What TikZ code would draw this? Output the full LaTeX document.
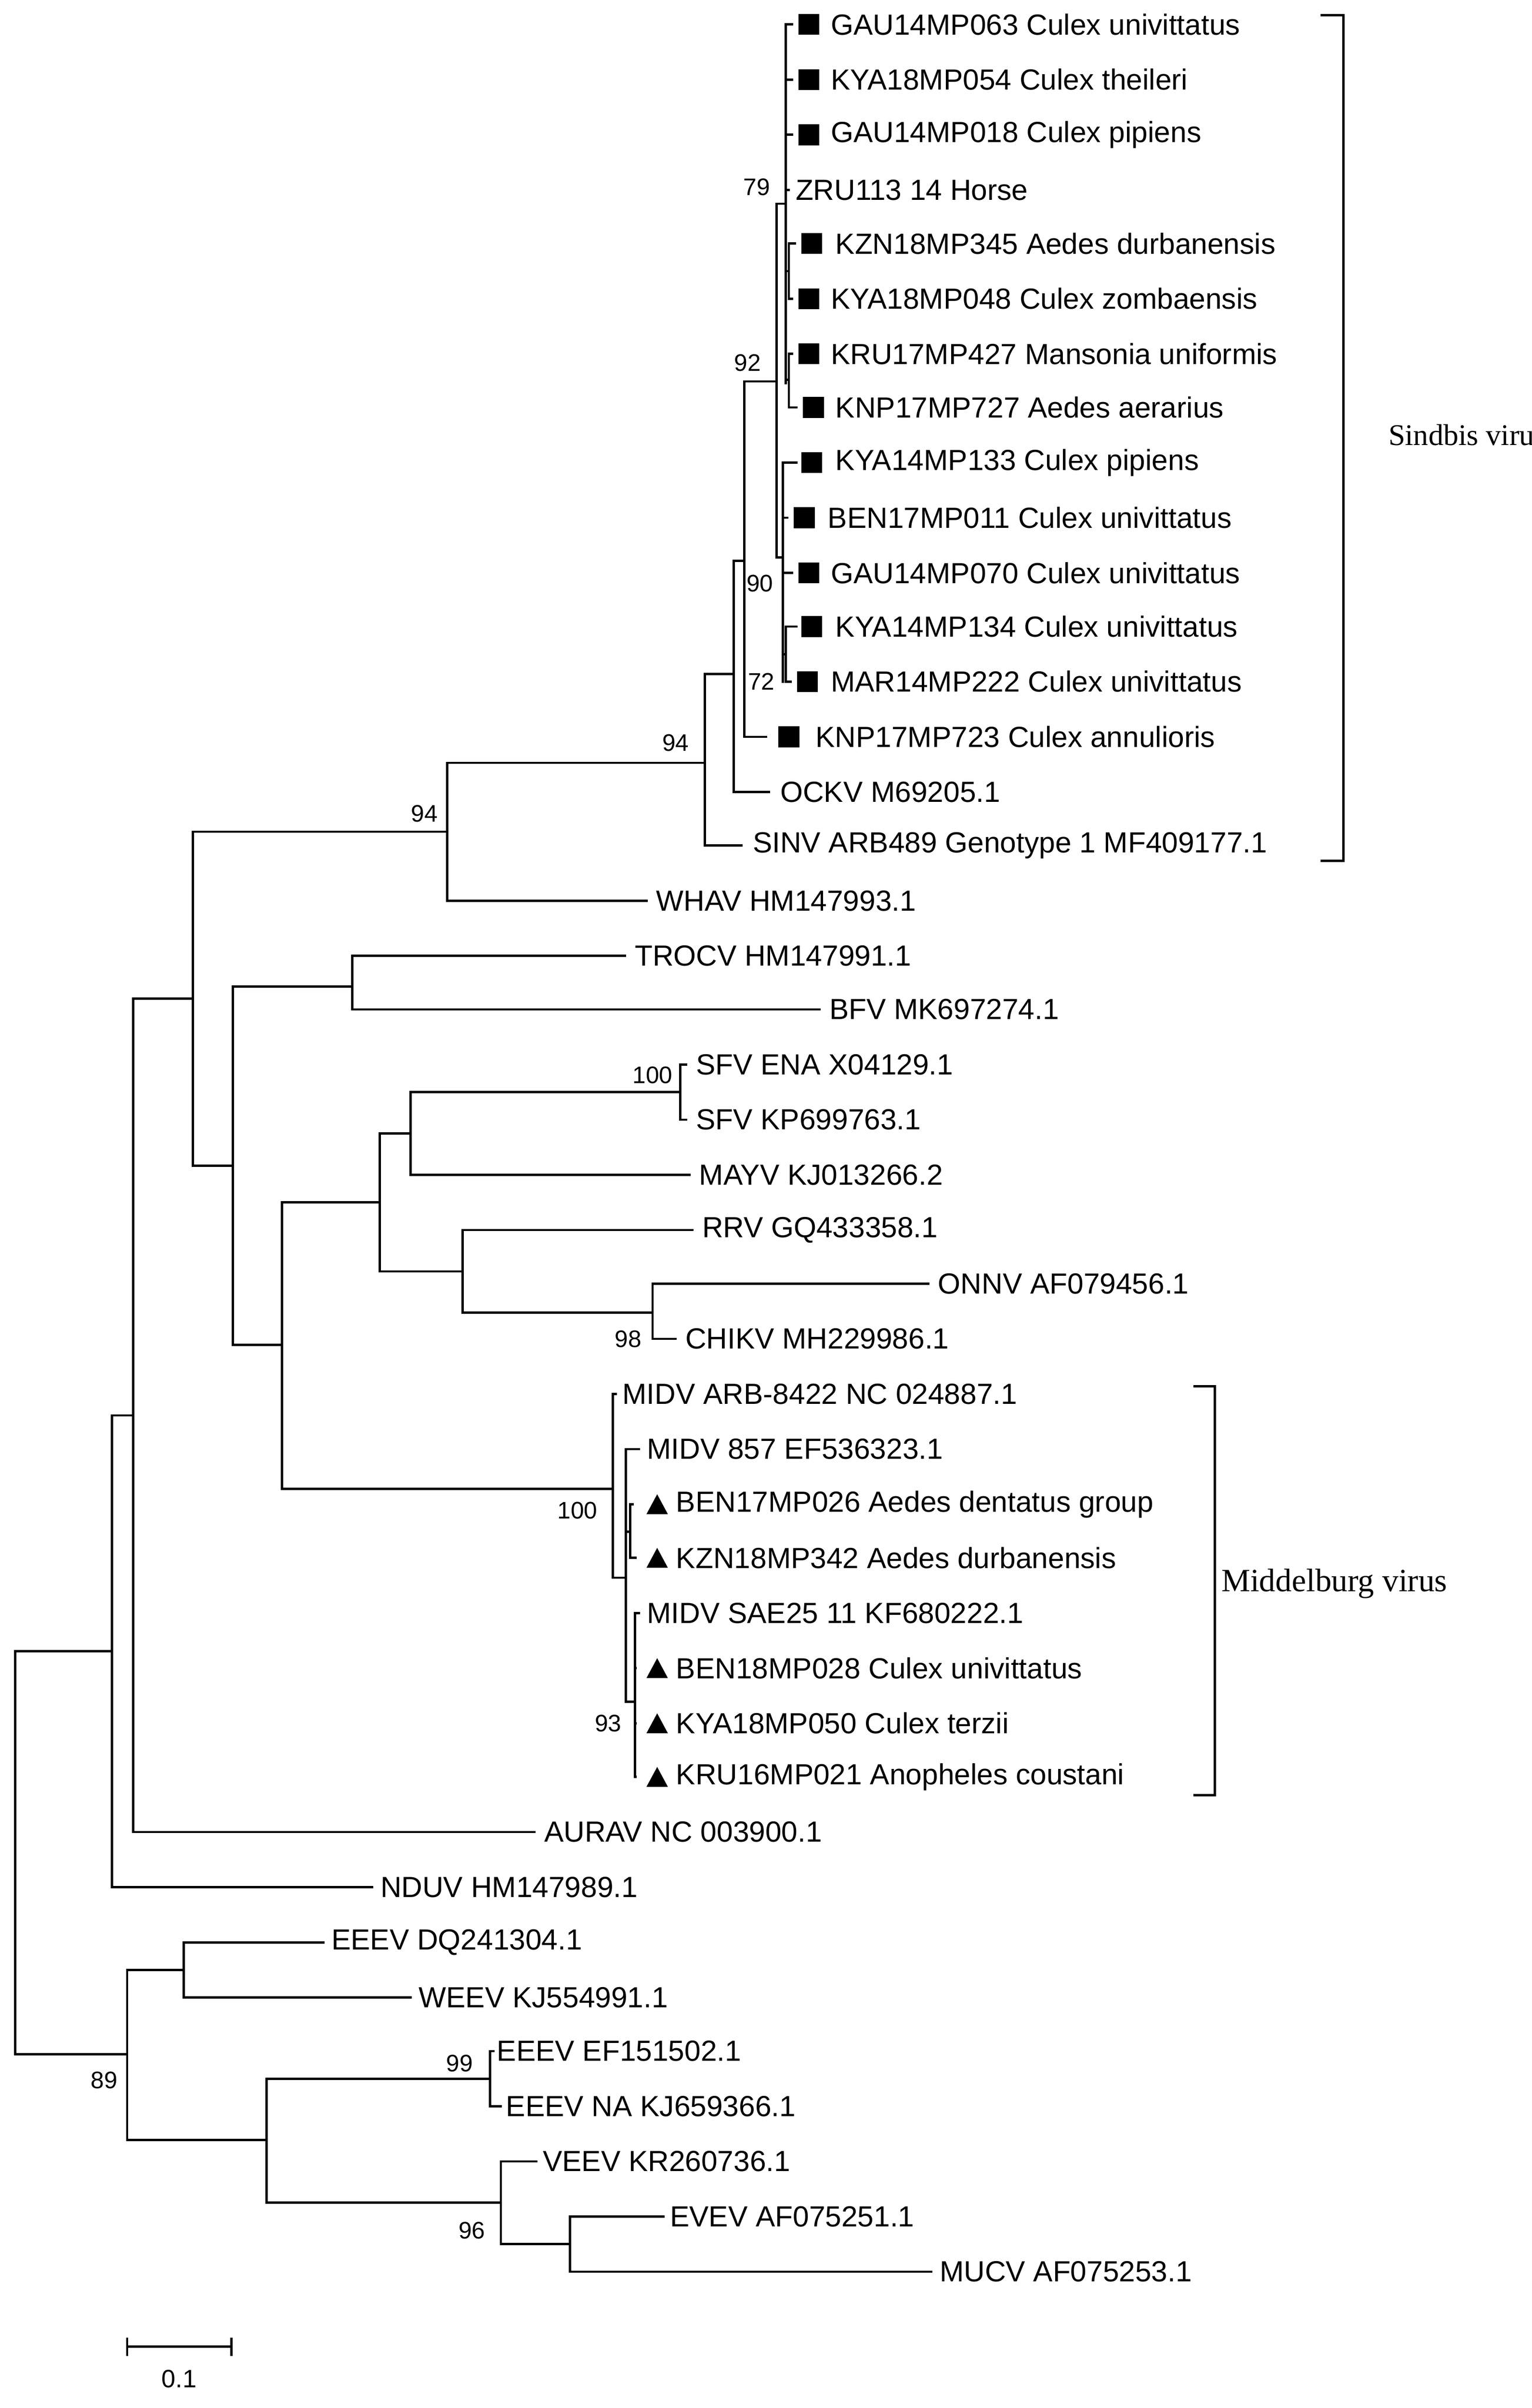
\documentclass[tikz,border=0pt]{standalone}
\usepackage{fontspec}
\setmainfont{Liberation Sans}
\newfontfamily\serifft{Liberation Serif}
\begin{document}
\begin{tikzpicture}[x=0.5pt,y=-0.5pt,
  br/.style={line width=0.75pt,line cap=rect},
  lbl/.style={anchor=west,inner sep=0pt,font=\fontsize{9.5}{11}\selectfont},
  bs/.style={inner sep=0pt,font=\fontsize{7.8}{9}\selectfont},
  grp/.style={anchor=west,inner sep=0pt,font=\serifft\fontsize{10.6}{13}\selectfont},
  sq/.style={fill=black,minimum size=6.8pt,inner sep=0pt,draw=none},
  tri/.style={fill=black}]
\useasboundingbox (0,0) rectangle (1000,1572);
\newcommand\lf[7]{%
  \draw[br] (#1,#2) -- (#3,#2);
  \ifx s#4\node[sq] (m#7) at (#5,#2) {};\fi
  \ifx t#4\fill[tri] (#5-7,#2+6.5) -- (#5+7,#2+6.5) -- (#5,#2-6.5) -- cycle;\fi
  \node[lbl] (#7) at (#6,#2) {#7};}
% ---- Sindbis cluster
\lf{513}{16}{517}{s}{528}{542}{GAU14MP063 Culex univittatus}
\lf{513}{52}{517}{s}{528}{542}{KYA18MP054 Culex theileri}
\lf{513}{88}{517}{s}{528}{542}{GAU14MP018 Culex pipiens}
\lf{513}{124}{515}{n}{0}{519}{ZRU113 14 Horse}
\lf{515}{159}{519}{s}{530}{545}{KZN18MP345 Aedes durbanensis}
\lf{515}{195}{517}{s}{528}{542}{KYA18MP048 Culex zombaensis}
\lf{515}{231}{517}{s}{528}{542}{KRU17MP427 Mansonia uniformis}
\lf{515}{266}{520}{s}{531}{545}{KNP17MP727 Aedes aerarius}
\lf{511}{302}{520}{s}{530}{545}{KYA14MP133 Culex pipiens}
\lf{511}{338}{514}{s}{525}{540}{BEN17MP011 Culex univittatus}
\lf{511}{374}{517}{s}{528}{542}{GAU14MP070 Culex univittatus}
\lf{513}{409}{520}{s}{530}{545}{KYA14MP134 Culex univittatus}
\lf{513}{445}{516}{s}{527}{542}{MAR14MP222 Culex univittatus}
\lf{486}{481}{500}{s}{515}{532}{KNP17MP723 Culex annulioris}
\lf{479}{517}{502}{n}{0}{509}{OCKV M69205.1}
\lf{460}{552}{484}{n}{0}{491}{SINV ARB489 Genotype 1 MF409177.1}
\lf{292}{588}{422}{n}{0}{428}{WHAV HM147993.1}
% internal Sindbis
\draw[br] (513,16) -- (513,250);
\draw[br] (513,177) -- (515,177) (515,159) -- (515,195);
\draw[br] (513,248) -- (515,248) (515,231) -- (515,266);
\draw[br] (507,133) -- (513,133);
\draw[br] (507,133) -- (507,364) -- (511,364);
\draw[br] (511,302) -- (511,445);
\draw[br] (511,427) -- (513,427) (513,409) -- (513,445);
\draw[br] (486,249) -- (507,249);
\draw[br] (486,249) -- (486,481);
\draw[br] (479,366) -- (486,366) (479,366) -- (479,517);
\draw[br] (460,440) -- (479,440) (460,440) -- (460,552);
\draw[br] (292,498) -- (460,498) (292,498) -- (292,588);
\draw[br] (126,543) -- (292,543);
% ---- other
\lf{230}{624}{408}{n}{0}{414}{TROCV HM147991.1}
\lf{230}{659}{535}{n}{0}{541}{BFV MK697274.1}
\lf{444}{695}{448}{n}{0}{454}{SFV ENA X04129.1}
\lf{444}{731}{448}{n}{0}{454}{SFV KP699763.1}
\lf{268}{767}{450}{n}{0}{456}{MAYV KJ013266.2}
\lf{302}{803}{452}{n}{0}{458}{RRV GQ433358.1}
\lf{426}{838}{606}{n}{0}{612}{ONNV AF079456.1}
\lf{426}{874}{441}{n}{0}{447}{CHIKV MH229986.1}
\lf{400}{910}{402}{n}{0}{406}{MIDV ARB-8422 NC 024887.1}
\lf{408.5}{946}{417}{n}{0}{422}{MIDV 857 EF536323.1}
\lf{411.5}{982}{413}{t}{429}{441}{BEN17MP026 Aedes dentatus group}
\lf{411.5}{1017}{415}{t}{429}{441}{KZN18MP342 Aedes durbanensis}
\lf{414.5}{1053}{417}{n}{0}{422}{MIDV SAE25 11 KF680222.1}
\lf{414.5}{1089}{415}{t}{429}{441}{BEN18MP028 Culex univittatus}
\lf{414.5}{1125}{415}{t}{429}{441}{KYA18MP050 Culex terzii}
\lf{414.5}{1160}{415}{t}{429}{441}{KRU16MP021 Anopheles coustani}
\lf{87}{1196}{349}{n}{0}{355}{AURAV NC 003900.1}
\lf{73}{1232}{243}{n}{0}{248}{NDUV HM147989.1}
\lf{120}{1268}{211}{n}{0}{216}{EEEV DQ241304.1}
\lf{120}{1304}{268}{n}{0}{273}{WEEV KJ554991.1}
\lf{320}{1339}{322}{n}{0}{324}{EEEV EF151502.1}
\lf{320}{1375}{327}{n}{0}{330}{EEEV NA KJ659366.1}
\lf{327}{1411}{350}{n}{0}{354}{VEEV KR260736.1}
\lf{372}{1447}{433}{n}{0}{437}{EVEV AF075251.1}
\lf{372}{1483}{608}{n}{0}{613}{MUCV AF075253.1}
% internal others
\draw[br] (230,624) -- (230,659) (152,644) -- (230,644);
\draw[br] (444,695) -- (444,731) (268,713) -- (444,713);
\draw[br] (268,713) -- (268,767) (248,740) -- (268,740);
\draw[br] (426,838) -- (426,874) (302,857) -- (426,857);
\draw[br] (302,803) -- (302,857) (248,830) -- (302,830);
\draw[br] (248,740) -- (248,830) (184,785) -- (248,785);
\draw[br] (400,910) -- (400,1030) (184,972) -- (400,972);
\draw[br] (400,1030) -- (408.5,1030) (408.5,946) -- (408.5,1111);
\draw[br] (408.5,1000) -- (411.5,1000) (411.5,982) -- (411.5,1017);
\draw[br] (408.5,1111) -- (414.5,1111) (414.5,1053) -- (414.5,1160);
\draw[br] (184,785) -- (184,972) (152,878) -- (184,878);
\draw[br] (152,644) -- (152,878) (126,761) -- (152,761);
\draw[br] (126,543) -- (126,761) (87,652) -- (126,652);
\draw[br] (87,652) -- (87,1196) (73,924) -- (87,924);
\draw[br] (73,924) -- (73,1232) (10,1078) -- (73,1078);
\draw[br] (120,1268) -- (120,1304) (83,1286) -- (120,1286);
\draw[br] (320,1339) -- (320,1375) (174,1357) -- (320,1357);
\draw[br] (372,1447) -- (372,1483) (327,1465) -- (372,1465);
\draw[br] (327,1411) -- (327,1465) (174,1438) -- (327,1438);
\draw[br] (174,1357) -- (174,1438) (83,1397) -- (174,1397);
\draw[br] (83,1286) -- (83,1397) (10,1341) -- (83,1341);
\draw[br] (10,1078) -- (10,1341);
% bootstrap
\node[bs] (b79) at (494,122) {79};
\node[bs] (b92) at (488,237) {92};
\node[bs] (b90) at (496,381) {90};
\node[bs] (b72) at (497,445) {72};
\node[bs] (b94a) at (441,485) {94};
\node[bs] (b94b) at (277,531) {94};
\node[bs] (b100a) at (426,702) {100};
\node[bs] (b98) at (410,874) {98};
\node[bs] (b100b) at (377,986) {100};
\node[bs] (b93) at (397,1125) {93};
\node[bs] (b99) at (300,1347) {99};
\node[bs] (b96) at (308,1456) {96};
\node[bs] (b89) at (68,1358) {89};
% brackets
\draw[br,line cap=butt] (862,10) -- (877,10) -- (877,562) -- (862,562);
\node[grp,font=\serifft\fontsize{9.8}{12}\selectfont] (sind) at (906,284) {Sindbis virus};
\draw[br,line cap=butt] (779,905) -- (793,905) -- (793,1172) -- (779,1172);
\node[grp] (midd) at (797,1034) {Middelburg virus};
% scale bar
\coordinate (s1) at (83,1532); \coordinate (s2) at (151,1532);
\draw[br,line cap=butt] (s1) -- (s2);
\draw[br,line cap=butt] (83,1526) -- (83,1538) (151,1526) -- (151,1538);
\node[bs,font=\fontsize{8.2}{9}\selectfont] (sl) at (117,1553) {0.1};
\end{tikzpicture}
\end{document}
